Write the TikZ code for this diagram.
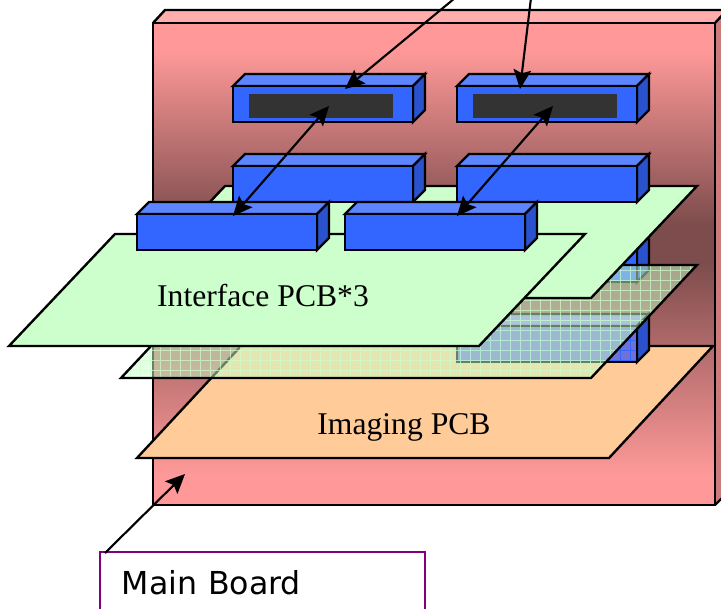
\documentclass[tikz,border=0pt]{standalone}
\usepackage{fontspec}
\setmainfont{Liberation Serif}
\newfontfamily\labelfont{DejaVu Sans}
\usetikzlibrary{arrows.meta}

\definecolor{boardpink}{HTML}{FF9999}
\definecolor{boarddark}{HTML}{7D4C4C}
\definecolor{boardtop}{HTML}{FFADAD}
\definecolor{boardside}{HTML}{CC7A7A}
\definecolor{blockfront}{HTML}{3366FF}
\definecolor{blocktop}{HTML}{5C85FF}
\definecolor{blockside}{HTML}{2952CC}
\definecolor{meshfront}{HTML}{6E71D8}
\definecolor{meshtop}{HTML}{8E8BEE}
\definecolor{slotgrey}{HTML}{333333}
\definecolor{pcbgreen}{HTML}{CCFFCC}
\definecolor{pcborange}{HTML}{FFCC99}
\definecolor{boxpurple}{HTML}{800080}

\tikzset{
    outline/.style={draw=black,line width=1.35pt,line join=miter},
    pointer/.style={-{Stealth[length=11pt,width=10pt,inset=2pt]},line width=1.2pt},
    twoway/.style={{Stealth[length=11pt,width=10pt,inset=2pt]}-{Stealth[length=11pt,width=10pt,inset=2pt]},line width=1.2pt},
    pcblabel/.style={font=\fontsize{18}{20}\selectfont}
}

% front face corner at (#1,#2), 180 wide, 36 high, depth 12
\newcommand{\blockbox}[2]{
    \draw[outline,fill=blocktop] (#1,#2) -- ++(12,-12) -- ++(180,0) -- ++(-12,12) -- cycle;
    \draw[outline,fill=blockside] (#1+180,#2) -- ++(12,-12) -- ++(0,36) -- ++(-12,12) -- cycle;
    \draw[outline,fill=blockfront] (#1,#2) rectangle ++(180,36);
}

\begin{document}
\begin{tikzpicture}[x=0.02cm,y=-0.02cm]

    \clip (0,0) rectangle (721,609);

    % main board
    \fill[boardtop] (153,23) -- (165,10) -- (727,10) -- (715,23) -- cycle;
    \shade[top color=boardside,middle color=boarddark!85!black,bottom color=boardside] (715,23) -- (727,10) -- (727,493) -- (715,505) -- cycle;
    \fill[boardpink] (153,23) rectangle (715,505);
    \shade[top color=boardpink,bottom color=boarddark] (153,50) rectangle (715,225);
    \fill[boarddark] (153,225) rectangle (715,262);
    \shade[top color=boarddark,bottom color=boardpink] (153,262) rectangle (715,475);
    \draw[outline] (153,23) -- (165,10) -- (727,10);
    \draw[outline] (715,23) -- (727,10);
    \draw[outline] (715,505) -- (727,493);
    \draw[outline] (153,23) rectangle (715,505);

    % blocks on the board
    \blockbox{233}{86}
    \fill[slotgrey] (249,94) rectangle (393,118);
    \blockbox{457}{86}
    \fill[slotgrey] (473,94) rectangle (617,118);

    % imaging layer
    \draw[outline,fill=pcborange] (137,458) -- (609,458) -- (713,346) -- (241,346) -- cycle;
    \draw[outline,fill=meshtop] (457,326) -- (469,314) -- (649,314) -- (637,326) -- cycle;
    \draw[outline,fill=blockside] (637,326) -- (649,314) -- (649,350) -- (637,362) -- cycle;
    \fill[meshfront] (457,326) rectangle (637,362);
    \begin{scope}
        \clip (457,326) rectangle (637,362);
        \draw[blockfront,line width=0.4pt,step=0.2cm] (450,320) grid (640,370);
    \end{scope}
    \draw[outline] (457,326) rectangle (637,362);
    \blockbox{457}{246}

    % meshed layer
    \fill[pcbgreen,fill opacity=0.5] (121,378) -- (591,378) -- (697,265) -- (227,265) -- cycle;
    \begin{scope}
        \clip (121,378) -- (591,378) -- (697,265) -- (227,265) -- cycle;
        \draw[pcbgreen,line width=0.35pt,draw opacity=0.7,step=0.2cm] (120,260) grid (700,380);
    \end{scope}
    \draw[outline] (121,378) -- (591,378) -- (697,265) -- (227,265) -- cycle;

    % interface layers
    \draw[outline,fill=pcbgreen] (119,298) -- (591,298) -- (697,186) -- (225,186) -- cycle;
    \blockbox{233}{166}
    \blockbox{457}{166}
    \draw[outline,fill=pcbgreen] (9,346) -- (479,346) -- (585,234) -- (115,234) -- cycle;
    \blockbox{137}{214}
    \blockbox{345}{214}

    \node[pcblabel] (interface) at (263,296) {Interface PCB*3};
    \node[pcblabel] (imaging) at (404,427) {Imaging PCB};

    % label box
    \node[draw=boxpurple,line width=1.2pt,outer sep=0pt,anchor=north west,minimum width=6.5cm,minimum height=1.24cm,
          inner xsep=0.44cm,inner ysep=0.1cm,align=left,text width=5.62cm,
          font=\labelfont\fontsize{18}{20}\selectfont] (mainbox) at (100,552) {Main Board};

    % pointers
    \coordinate (slotA) at (345,89);
    \coordinate (slotB) at (520,89);
    \coordinate (feedA) at (455,-2);
    \coordinate (feedB) at (531,-2);
    \coordinate (upA) at (329,106);
    \coordinate (upB) at (553,106);
    \coordinate (downA) at (233,216);
    \coordinate (downB) at (457,216);
    \coordinate (mainStart) at (105,553);
    \coordinate (mainTip) at (185,474);

    \draw[pointer] (feedA) -- (slotA);
    \draw[pointer] (feedB) -- (slotB);
    \draw[twoway] (downA) -- (upA);
    \draw[twoway] (downB) -- (upB);
    \draw[pointer] (mainStart) -- (mainTip);

\end{tikzpicture}
\end{document}
